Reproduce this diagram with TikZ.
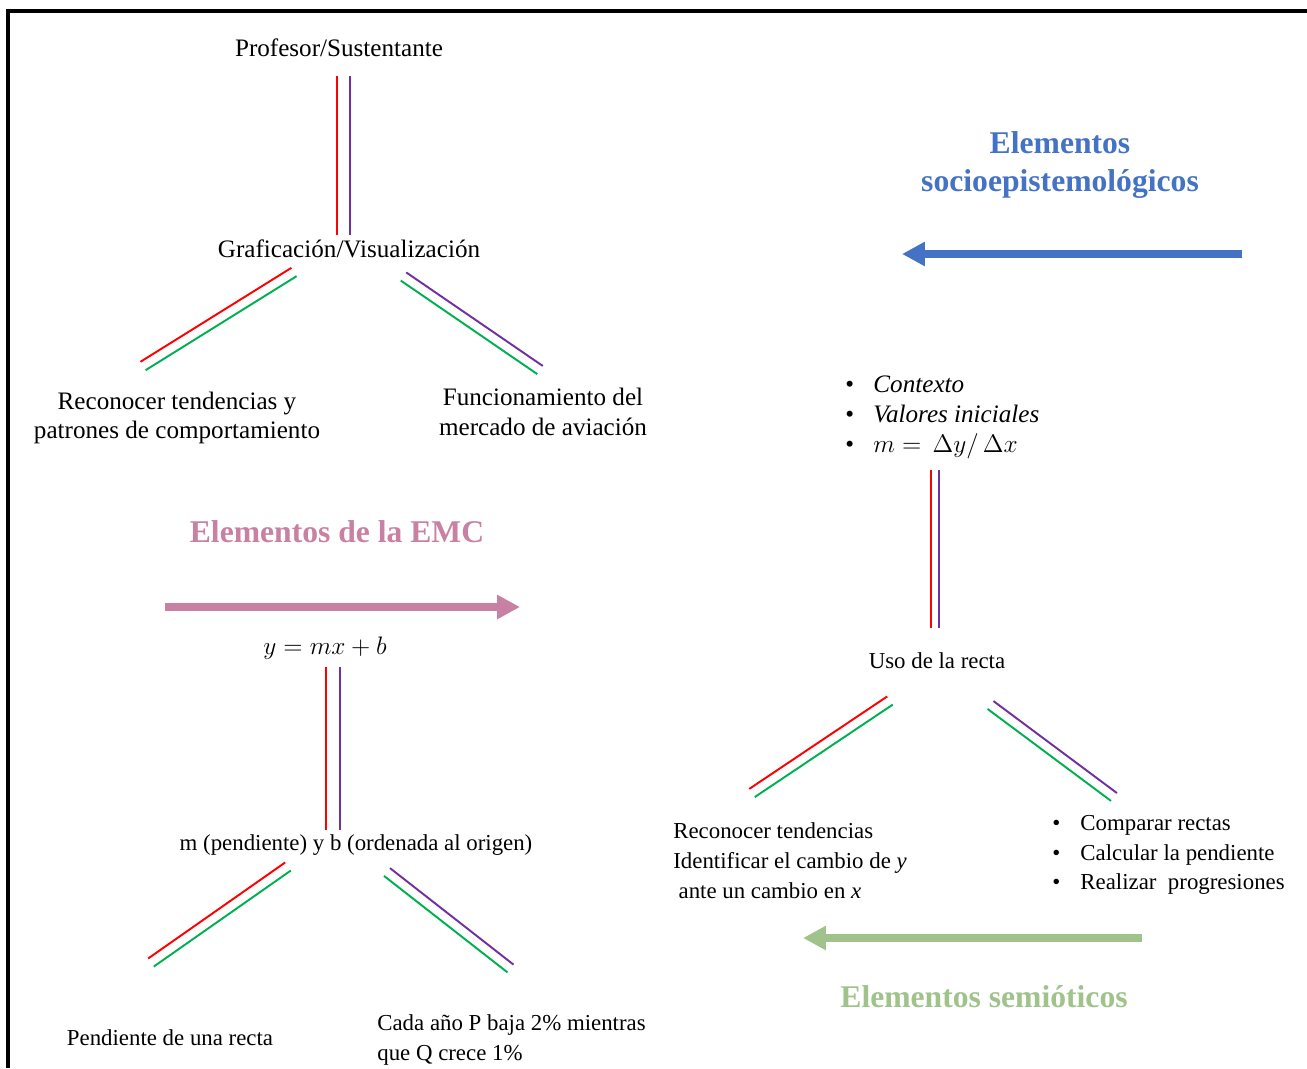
\documentclass[tikz,border=0pt]{standalone}
\usepackage{fontspec}
\setmainfont{Liberation Serif}
\usetikzlibrary{arrows.meta, calc}
\definecolor{cred}{HTML}{FF0000}
\definecolor{cpurple}{HTML}{7030A0}
\definecolor{cgreen}{HTML}{00B050}
\definecolor{cblue}{HTML}{4472C4}
\definecolor{cpink}{HTML}{C880A3}
\definecolor{colive}{HTML}{9FC38A}
\tikzset{
  every picture/.style={font=\fontsize{14.3}{17}\selectfont},
  lbl/.style={align=center, inner sep=0pt},
  lst/.style={align=left, inner sep=0pt, anchor=west},
  sm/.style={font=\fontsize{13}{17}\selectfont},
  link/.style={draw=#1, line width=1.1pt},
  head/.style={font=\fontsize{18}{21}\selectfont\bfseries, text=#1, align=center, inner sep=0pt},
  flow/.style={draw=#1, line width=4.5pt, -{Triangle[length=13pt, width=13pt]}},
}
% two parallel strokes between a and b: #4 on the left-hand turn, #5 on the other side
\newcommand{\twin}[5][2.8pt]{%
  \draw[link=#4] ($(#2)!#1!90:(#3)$) -- ($(#3)!#1!-90:(#2)$);
  \draw[link=#5] ($(#2)!#1!-90:(#3)$) -- ($(#3)!#1!90:(#2)$);
}
\newcommand{\itm}{\makebox[16pt][l]{\textbullet}}

\begin{document}
\begin{tikzpicture}[x=0.02cm, y=-0.02cm]
  \useasboundingbox (0,0) rectangle (1307,1068);
  % frame
  \draw[line width=1.9pt] (8,1068) -- (8,11) -- (1307,11);

  % left tree: Profesor/Sustentante
  \node[lbl] (prof) at (339,48) {Profesor/Sustentante};
  \node[lbl] (graf) at (349,249) {Graficación/Visualización};
  \node[lbl] (tend) at (177,418) {Reconocer tendencias y\\patrones de comportamiento};
  \node[lbl] (merc) at (543,412) {Funcionamiento del\\mercado de aviación};
  \coordinate (p1) at (343.5,76);  \coordinate (p2) at (343.5,235);
  \coordinate (g1) at (294,272);   \coordinate (g2) at (143,366);
  \coordinate (g3) at (403.5,276.5); \coordinate (g4) at (540,370);
  \twin[3.7pt]{p1}{p2}{cpurple}{cred}
  \twin{g1}{g2}{cgreen}{cred}
  \twin{g3}{g4}{cpurple}{cgreen}

  % EMC block
  \node[head=cpink] (emc) at (337,532) {Elementos de la EMC};
  \coordinate (e1) at (165,607); \coordinate (e2) at (520,607);
  \draw[flow=cpink] (e1) -- (e2);
  \node[lbl, font=\fontsize{13.5}{17}\selectfont] (eq) at (325,648) {$y = mx + b$};
  \node[lbl, sm] (mb) at (356,845) {m (pendiente) y b (ordenada al origen)};
  \node[lbl, sm] (pend) at (170,1038) {Pendiente de una recta};
  \node[lst, sm] (pq) at (377,1040) {Cada año P baja 2\% mientras\\que Q crece 1\%};
  \coordinate (q1) at (333,667);   \coordinate (q2) at (333,830);
  \coordinate (m1) at (288,866.5); \coordinate (m2) at (151,962.5);
  \coordinate (m3) at (387,872);   \coordinate (m4) at (510.5,968.5);
  \twin[3.9pt]{q1}{q2}{cpurple}{cred}
  \twin{m1}{m2}{cgreen}{cred}
  \twin{m3}{m4}{cpurple}{cgreen}

  % right tree: Uso de la recta
  \node[head=cblue, font=\fontsize{18}{21.5}\selectfont\bfseries] (socio) at (1060,165) {Elementos\\socioepistemológicos};
  \coordinate (s1) at (1242,254); \coordinate (s2) at (902,254);
  \draw[flow=cblue] (s1) -- (s2);
  \node[lst] (ctx) at (845,417) {\itm\textit{Contexto}\\\itm\textit{Valores iniciales}\\\itm{\fontsize{13.5}{17}\selectfont$m =\,\Delta y/\,\Delta x$}};
  \node[lbl, sm] (uso) at (937,661) {Uso de la recta};
  \node[lst, sm] (camb) at (673,861) {Reconocer tendencias\\Identificar el cambio de \textit{y}\\\hspace*{3pt}ante un cambio en \textit{x}};
  \node[lst, sm] (comp) at (1052,855) {\itm Comparar rectas\\\itm Calcular la pendiente\\\itm Realizar\ \ progresiones};
  \coordinate (u1) at (935,470);   \coordinate (u2) at (935,628);
  \coordinate (r1) at (890,700.5); \coordinate (r2) at (752,793);
  \coordinate (r3) at (990.5,705); \coordinate (r4) at (1114,797);
  \twin[2.3pt]{u1}{u2}{cpurple}{cred}
  \twin{r1}{r2}{cgreen}{cred}
  \twin{r3}{r4}{cpurple}{cgreen}
  \coordinate (o1) at (1142,938); \coordinate (o2) at (803,938);
  \draw[flow=colive] (o1) -- (o2);
  \node[head=colive] (semi) at (984,997) {Elementos semióticos};
\end{tikzpicture}
\end{document}
